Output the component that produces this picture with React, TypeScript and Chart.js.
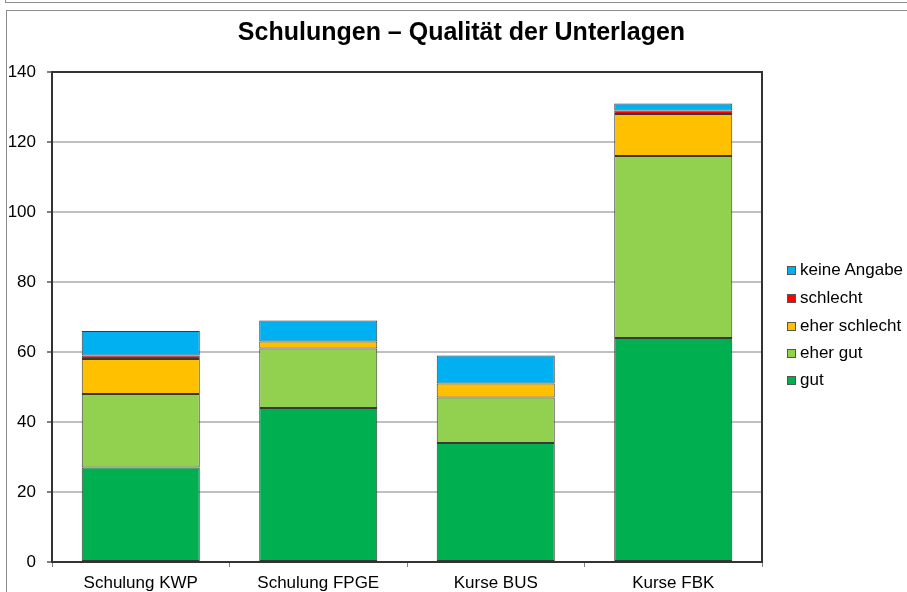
import React, { useEffect, useRef } from "react";
import { Chart, registerables } from "chart.js";

Chart.register(...registerables);

const categories = ["Schulung KWP", "Schulung FPGE", "Kurse BUS", "Kurse FBK"];
const seriesNames = ["gut", "eher gut", "eher schlecht", "schlecht", "keine Angabe"];
const gut = [27, 44, 34, 64];
const eherGut = [21, 17, 13, 52];
const eherSchlecht = [10, 2, 4, 12];
const schlecht = [1, 0, 0, 1];
const keineAngabe = [7, 6, 8, 2];
const seriesColors = ["#00B050", "#92D050", "#FFC000", "#FF0000", "#00B0F0"];
const yTickStep = 20;
const yMax = 140;
const titleText = "Schulungen – Qualität der Unterlagen";

const FONT = "'Liberation Sans', Arial, sans-serif";

const framePlugin = {
  id: "frame",
  afterDraw(chart: any) {
    const { ctx, chartArea } = chart;
    ctx.save();
    ctx.strokeStyle = "#333333";
    ctx.lineWidth = 2;
    ctx.strokeRect(chartArea.left, chartArea.top, chartArea.right - chartArea.left, chartArea.bottom - chartArea.top);
    ctx.restore();
  },
};

export default function App() {
  const ref = useRef<HTMLCanvasElement | null>(null);
  const values = [gut, eherGut, eherSchlecht, schlecht, keineAngabe];

  useEffect(() => {
    if (!ref.current) return;
    const chart = new Chart(ref.current, {
      type: "bar",
      data: {
        labels: categories,
        datasets: seriesNames.map((name, i) => ({
          label: name,
          data: values[i],
          backgroundColor: seriesColors[i],
          borderColor: "#383838",
          borderWidth: 1,
          borderSkipped: false,
          barPercentage: 0.665,
          categoryPercentage: 1,
          yAxisID: "y",
        })),
      },
      options: {
        animation: false,
        responsive: false,
        maintainAspectRatio: false,
        layout: { padding: 0 },
        plugins: {
          legend: { display: false },
          tooltip: { enabled: false },
          title: {
            display: true,
            text: titleText,
            color: "#000",
            font: { family: FONT, size: 25, weight: "bold" },
            padding: { top: 8, bottom: 24 },
          },
        },
        scales: {
          x: {
            stacked: true,
            grid: {
              display: true,
              drawOnChartArea: false,
              drawTicks: true,
              tickLength: 5,
              color: "#808080",
              offset: true,
            },
            border: { display: true, color: "#333333", width: 2 },
            ticks: {
              color: "#000",
              font: { family: FONT, size: 17 },
              padding: 6,
              maxRotation: 0,
              autoSkip: false,
            },
            afterFit: (s: any) => {
              s.height = 48;
            },
          },
          y: {
            stacked: true,
            position: "left",
            min: 0,
            max: yMax,
            ticks: {
              stepSize: yTickStep,
              color: "#000",
              font: { family: FONT, size: 17 },
              padding: 11,
            },
            grid: {
              color: "#c0c0c0",
              lineWidth: 2,
              tickLength: 5,
              tickColor: "#808080",
            },
            border: { display: true, color: "#333333", width: 2 },
            afterFit: (s: any) => {
              s.width = 46;
            },
          },
          legendSpace: {
            type: "linear",
            position: "right",
            display: true,
            min: 0,
            max: yMax,
            grid: { display: false, drawTicks: false },
            border: { display: false },
            ticks: { display: false },
            afterFit: (s: any) => {
              s.width = 155;
            },
          },
        },
      },
      plugins: [framePlugin],
    });
    return () => chart.destroy();
  }, []);

  const legendCenters = [270, 298, 326, 353, 380];
  const legendItems = seriesNames.map((n, i) => ({ name: n, color: seriesColors[i] })).reverse();

  return (
    <div
      style={{
        position: "fixed",
        left: 0,
        top: 0,
        width: 907,
        height: 592,
        overflow: "hidden",
        background: "#fff",
      }}
    >
      <div style={{ position: "absolute", left: 5, top: -9, width: 920, height: 12, border: "1px solid #8c8c8c", boxSizing: "border-box" }} />
      <div style={{ position: "absolute", left: 6, top: 10, width: 920, height: 620, border: "1px solid #8c8c8c", boxSizing: "border-box" }} />
      <canvas
        ref={ref}
        width={911}
        height={600}
        style={{ position: "absolute", left: 6, top: 10, width: 911, height: 600 }}
      />
      {legendItems.map((it, i) => (
        <div
          key={it.name}
          style={{
            position: "absolute",
            left: 787,
            top: legendCenters[i] - 10,
            height: 20,
            lineHeight: "20px",
            fontFamily: FONT,
            fontSize: 17,
            color: "#000",
            whiteSpace: "nowrap",
            display: "flex",
            alignItems: "center",
          }}
        >
          <span
            style={{
              display: "inline-block",
              width: 9,
              height: 9,
              boxSizing: "border-box",
              border: "1px solid #555",
              background: it.color,
              marginRight: 4,
            }}
          />
          <span>{it.name}</span>
        </div>
      ))}
    </div>
  );
}
